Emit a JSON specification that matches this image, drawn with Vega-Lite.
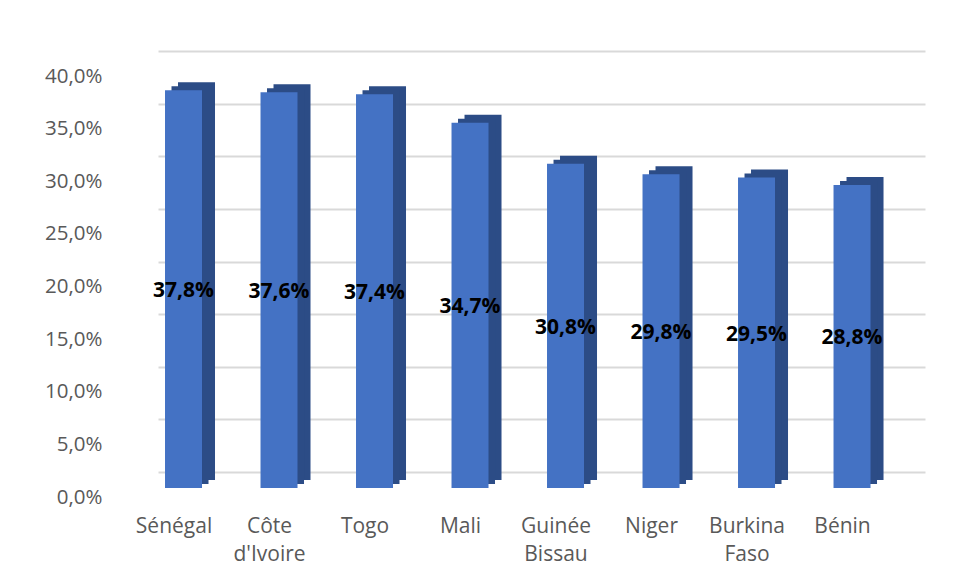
{
  "$schema": "https://vega.github.io/schema/vega-lite/v6.json",
  "autosize": {"type": "none"},
  "width": 767,
  "height": 421,
  "padding": {"left": 158, "top": 51, "right": 29, "bottom": 112},
  "background": "white",
  "config": {
    "locale": {"number": {"decimal": ",", "thousands": " ", "grouping": [3], "currency": ["", " €"]}},
    "view": {"stroke": null},
    "font": "Open Sans"
  },
  "data": {
    "values": [
      {"country": "Sénégal", "value": 0.378},
      {"country": "Côte d'Ivoire", "value": 0.376},
      {"country": "Togo", "value": 0.374},
      {"country": "Mali", "value": 0.347},
      {"country": "Guinée Bissau", "value": 0.308},
      {"country": "Niger", "value": 0.298},
      {"country": "Burkina Faso", "value": 0.295},
      {"country": "Bénin", "value": 0.288}
    ]
  },
  "encoding": {
    "x": {
      "field": "country",
      "type": "nominal",
      "sort": null,
      "scale": {"paddingInner": 0.6126, "paddingOuter": 0.3219, "align": 0.114, "round": false},
      "axis": {
        "title": null,
        "domain": false,
        "ticks": false,
        "labelAngle": 0,
        "labelFont": "Open Sans",
        "labelFontSize": 21,
        "labelColor": "#595959",
        "labelPadding": 43,
        "labelOffset": -9.5,
        "labelLineHeight": 28,
        "labelExpr": "split(datum.label, ' ')"
      }
    }
  },
  "layer": [
    {
      "layer": [
        {
          "mark": {"type": "bar", "color": "#2C4C86", "xOffset": 13, "yOffset": 8},
          "encoding": {
            "y": {
              "field": "value",
              "type": "quantitative",
              "scale": {"domain": [0, 0.4], "nice": false, "zero": true},
              "axis": {
                "title": null,
                "domain": false,
                "ticks": false,
                "values": [0, 0.05, 0.1, 0.15, 0.2, 0.25, 0.3, 0.35, 0.4],
                "format": ".1%",
                "labelFont": "Open Sans",
                "labelFontSize": 20.5,
                "labelColor": "#595959",
                "labelPadding": 56,
                "labelOffset": 25,
                "grid": true,
                "gridColor": "#D9D9D9",
                "gridWidth": 2
              }
            }
          }
        },
        {
          "mark": {"type": "bar", "color": "#2C4C86", "xOffset": 6.5, "yOffset": 12},
          "encoding": {
            "y": {"field": "value", "type": "quantitative"}
          }
        },
        {
          "mark": {"type": "bar", "color": "#4472C4", "yOffset": 16},
          "encoding": {
            "y": {"field": "value", "type": "quantitative"}
          }
        }
      ]
    },
    {
      "mark": {"type": "text", "fontWeight": "bold", "fontSize": 21, "color": "#000000", "baseline": "middle", "yOffset": 18, "font": "Open Sans"},
      "encoding": {
        "y": {"field": "value", "type": "quantitative", "scale": {"domain": [0, 0.8], "nice": false}, "axis": null},
        "text": {"field": "value", "type": "quantitative", "format": ".1%"}
      }
    }
  ],
  "resolve": {"scale": {"y": "independent"}}
}
